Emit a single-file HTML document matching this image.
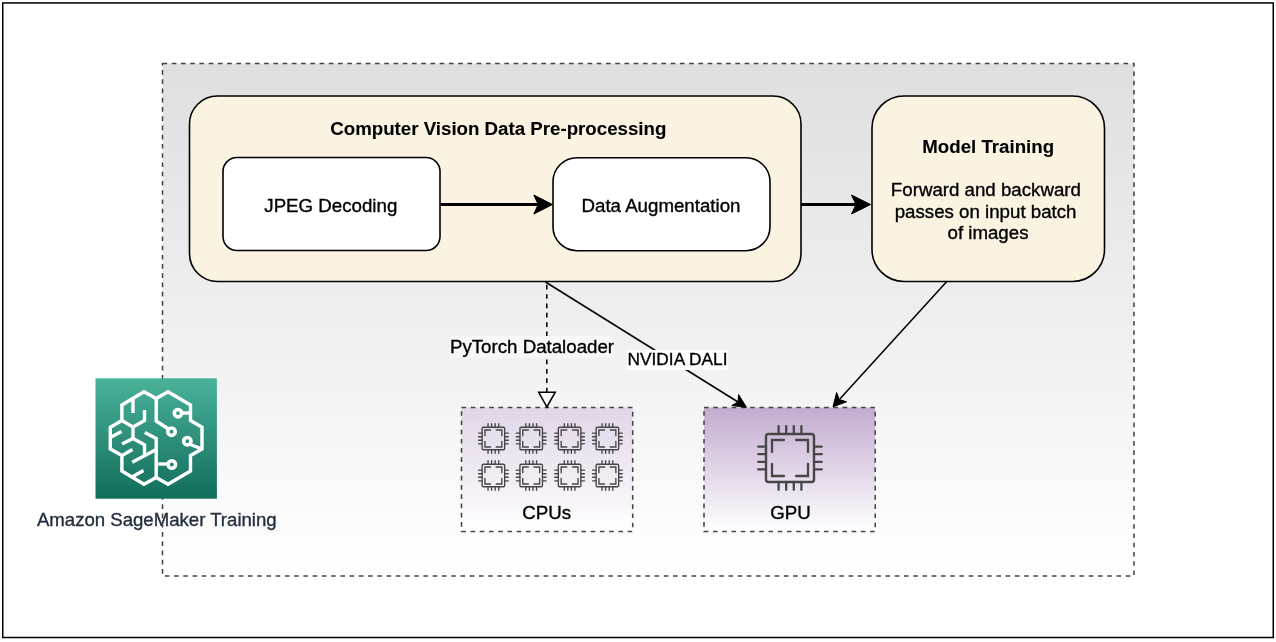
<!DOCTYPE html>
<html><head><meta charset="utf-8">
<style>
html,body{margin:0;padding:0;background:#fff;}
body{width:1276px;height:642px;overflow:hidden;position:relative;}
svg{position:absolute;left:0;top:0;will-change:transform;}
text{font-family:"Liberation Sans",sans-serif;stroke-width:0.35px;}
text[font-weight="bold"]{stroke-width:0.1px;}
</style></head>
<body>
<svg width="1276" height="642" viewBox="0 0 1276 642">
<defs>
<linearGradient id="gCont" x1="0" y1="0" x2="0" y2="1"><stop offset="0" stop-color="#dfdfdf"/><stop offset="1" stop-color="#ffffff"/></linearGradient>
<linearGradient id="gCpu" x1="0" y1="0" x2="0" y2="1"><stop offset="0" stop-color="#e1d5e7"/><stop offset="1" stop-color="#ffffff"/></linearGradient>
<linearGradient id="gGpu" x1="0" y1="0" x2="0" y2="1"><stop offset="0" stop-color="#c3abd0"/><stop offset="1" stop-color="#ffffff"/></linearGradient>
<linearGradient id="gSm" x1="0" y1="0" x2="0" y2="1"><stop offset="0" stop-color="#4ab29a"/><stop offset="1" stop-color="#116d5b"/></linearGradient>
</defs>
<!-- outer border -->
<rect x="2.75" y="2.95" width="1270.5" height="634.55" fill="#fff" stroke="#000" stroke-width="1.5"/>
<!-- container -->
<rect x="162.5" y="63.5" width="971.5" height="512.5" fill="url(#gCont)"/>
<text x="156.8" y="526.4" font-size="18.6" text-anchor="middle" fill="#232f3e" stroke="#232f3e">Amazon SageMaker Training</text>
<rect x="162.5" y="63.5" width="971.5" height="512.5" fill="none" stroke="#444" stroke-width="1.54" stroke-dasharray="4.62 4.62"/>
<!-- big box -->
<rect x="189.5" y="96" width="611.5" height="185.5" rx="28" fill="#faf3e2" stroke="#000" stroke-width="1.6"/>
<text x="498.3" y="134.7" font-size="18.7" font-weight="bold" text-anchor="middle" fill="#000" stroke="#000">Computer Vision Data Pre-processing</text>
<rect x="223" y="157.5" width="217" height="93" rx="14" fill="#fff" stroke="#000" stroke-width="1.6"/>
<text x="330.8" y="212.1" font-size="18.7" text-anchor="middle" fill="#000" stroke="#000">JPEG Decoding</text>
<rect x="553" y="157.7" width="217" height="93" rx="24" fill="#fff" stroke="#000" stroke-width="1.6"/>
<text x="661" y="211.7" font-size="18.7" text-anchor="middle" fill="#000" stroke="#000">Data Augmentation</text>
<!-- model training -->
<rect x="872" y="96" width="232.5" height="185.5" rx="32" fill="#faf3e2" stroke="#000" stroke-width="1.6"/>
<text x="988.2" y="153.4" font-size="18.7" font-weight="bold" text-anchor="middle" fill="#000" stroke="#000">Model Training</text>
<text x="985.9" y="196.2" font-size="18.7" text-anchor="middle" fill="#000" stroke="#000">Forward and backward</text>
<text x="985.6" y="217.8" font-size="18.7" text-anchor="middle" fill="#000" stroke="#000">passes on input batch</text>
<text x="988" y="239.4" font-size="18.7" text-anchor="middle" fill="#000" stroke="#000">of images</text>
<!-- arrows thick -->
<g fill="#000" stroke="#000">
<line x1="440" y1="204.5" x2="540" y2="204.5" stroke-width="3.1"/>
<path d="M552.5 204.5L533.8 195L538.2 204.5L533.8 214Z" stroke-width="1"/>
<line x1="801" y1="204.5" x2="858" y2="204.5" stroke-width="3.1"/>
<path d="M870.5 204.5L851.5 195L856 204.5L851.5 214Z" stroke-width="1"/>
</g>
<!-- CPU / GPU boxes -->
<rect x="461.5" y="407.5" width="171.2" height="124" fill="url(#gCpu)" stroke="#444" stroke-width="1.54" stroke-dasharray="4.62 4.62"/>
<rect x="704" y="407.5" width="171.2" height="124" fill="url(#gGpu)" stroke="#444" stroke-width="1.54" stroke-dasharray="4.62 4.62"/>
<g transform="translate(477.9 423.0) scale(0.46970)"><g fill="none" stroke="#474747" stroke-linecap="round">
<rect x="9" y="9" width="48" height="48" rx="2.5" stroke-width="2.9"/>
<path d="M15 27V15H27M39 15H51V27M15 39V51H27M39 51H51V39" stroke-width="2.9"/>
<path d="M21.6 1.4V9M29.2 1.4V9M36.8 1.4V9M44.4 1.4V9M21.6 57V64.6M29.2 57V64.6M36.8 57V64.6M44.4 57V64.6M1.4 21.6H9M1.4 29.2H9M1.4 36.8H9M1.4 44.4H9M57 21.6H64.6M57 29.2H64.6M57 36.8H64.6M57 44.4H64.6" stroke-width="2.9"/>
</g></g>
<g transform="translate(515.7 423.0) scale(0.46970)"><g fill="none" stroke="#474747" stroke-linecap="round">
<rect x="9" y="9" width="48" height="48" rx="2.5" stroke-width="2.9"/>
<path d="M15 27V15H27M39 15H51V27M15 39V51H27M39 51H51V39" stroke-width="2.9"/>
<path d="M21.6 1.4V9M29.2 1.4V9M36.8 1.4V9M44.4 1.4V9M21.6 57V64.6M29.2 57V64.6M36.8 57V64.6M44.4 57V64.6M1.4 21.6H9M1.4 29.2H9M1.4 36.8H9M1.4 44.4H9M57 21.6H64.6M57 29.2H64.6M57 36.8H64.6M57 44.4H64.6" stroke-width="2.9"/>
</g></g>
<g transform="translate(554.1 423.0) scale(0.46970)"><g fill="none" stroke="#474747" stroke-linecap="round">
<rect x="9" y="9" width="48" height="48" rx="2.5" stroke-width="2.9"/>
<path d="M15 27V15H27M39 15H51V27M15 39V51H27M39 51H51V39" stroke-width="2.9"/>
<path d="M21.6 1.4V9M29.2 1.4V9M36.8 1.4V9M44.4 1.4V9M21.6 57V64.6M29.2 57V64.6M36.8 57V64.6M44.4 57V64.6M1.4 21.6H9M1.4 29.2H9M1.4 36.8H9M1.4 44.4H9M57 21.6H64.6M57 29.2H64.6M57 36.8H64.6M57 44.4H64.6" stroke-width="2.9"/>
</g></g>
<g transform="translate(591.9 423.0) scale(0.46970)"><g fill="none" stroke="#474747" stroke-linecap="round">
<rect x="9" y="9" width="48" height="48" rx="2.5" stroke-width="2.9"/>
<path d="M15 27V15H27M39 15H51V27M15 39V51H27M39 51H51V39" stroke-width="2.9"/>
<path d="M21.6 1.4V9M29.2 1.4V9M36.8 1.4V9M44.4 1.4V9M21.6 57V64.6M29.2 57V64.6M36.8 57V64.6M44.4 57V64.6M1.4 21.6H9M1.4 29.2H9M1.4 36.8H9M1.4 44.4H9M57 21.6H64.6M57 29.2H64.6M57 36.8H64.6M57 44.4H64.6" stroke-width="2.9"/>
</g></g>
<g transform="translate(477.9 460.0) scale(0.46970)"><g fill="none" stroke="#474747" stroke-linecap="round">
<rect x="9" y="9" width="48" height="48" rx="2.5" stroke-width="2.9"/>
<path d="M15 27V15H27M39 15H51V27M15 39V51H27M39 51H51V39" stroke-width="2.9"/>
<path d="M21.6 1.4V9M29.2 1.4V9M36.8 1.4V9M44.4 1.4V9M21.6 57V64.6M29.2 57V64.6M36.8 57V64.6M44.4 57V64.6M1.4 21.6H9M1.4 29.2H9M1.4 36.8H9M1.4 44.4H9M57 21.6H64.6M57 29.2H64.6M57 36.8H64.6M57 44.4H64.6" stroke-width="2.9"/>
</g></g>
<g transform="translate(515.7 460.0) scale(0.46970)"><g fill="none" stroke="#474747" stroke-linecap="round">
<rect x="9" y="9" width="48" height="48" rx="2.5" stroke-width="2.9"/>
<path d="M15 27V15H27M39 15H51V27M15 39V51H27M39 51H51V39" stroke-width="2.9"/>
<path d="M21.6 1.4V9M29.2 1.4V9M36.8 1.4V9M44.4 1.4V9M21.6 57V64.6M29.2 57V64.6M36.8 57V64.6M44.4 57V64.6M1.4 21.6H9M1.4 29.2H9M1.4 36.8H9M1.4 44.4H9M57 21.6H64.6M57 29.2H64.6M57 36.8H64.6M57 44.4H64.6" stroke-width="2.9"/>
</g></g>
<g transform="translate(554.1 460.0) scale(0.46970)"><g fill="none" stroke="#474747" stroke-linecap="round">
<rect x="9" y="9" width="48" height="48" rx="2.5" stroke-width="2.9"/>
<path d="M15 27V15H27M39 15H51V27M15 39V51H27M39 51H51V39" stroke-width="2.9"/>
<path d="M21.6 1.4V9M29.2 1.4V9M36.8 1.4V9M44.4 1.4V9M21.6 57V64.6M29.2 57V64.6M36.8 57V64.6M44.4 57V64.6M1.4 21.6H9M1.4 29.2H9M1.4 36.8H9M1.4 44.4H9M57 21.6H64.6M57 29.2H64.6M57 36.8H64.6M57 44.4H64.6" stroke-width="2.9"/>
</g></g>
<g transform="translate(591.9 460.0) scale(0.46970)"><g fill="none" stroke="#474747" stroke-linecap="round">
<rect x="9" y="9" width="48" height="48" rx="2.5" stroke-width="2.9"/>
<path d="M15 27V15H27M39 15H51V27M15 39V51H27M39 51H51V39" stroke-width="2.9"/>
<path d="M21.6 1.4V9M29.2 1.4V9M36.8 1.4V9M44.4 1.4V9M21.6 57V64.6M29.2 57V64.6M36.8 57V64.6M44.4 57V64.6M1.4 21.6H9M1.4 29.2H9M1.4 36.8H9M1.4 44.4H9M57 21.6H64.6M57 29.2H64.6M57 36.8H64.6M57 44.4H64.6" stroke-width="2.9"/>
</g></g>
<g transform="translate(757.0 425.0) scale(1.00000)"><g fill="none" stroke="#474747" stroke-linecap="round">
<rect x="9" y="9" width="48" height="48" rx="2.5" stroke-width="2.4"/>
<path d="M15 27V15H27M39 15H51V27M15 39V51H27M39 51H51V39" stroke-width="2.3"/>
<path d="M21.6 1.2V9M29.2 1.2V9M36.8 1.2V9M44.4 1.2V9M21.6 57V64.8M29.2 57V64.8M36.8 57V64.8M44.4 57V64.8M1.2 21.6H9M1.2 29.2H9M1.2 36.8H9M1.2 44.4H9M57 21.6H64.8M57 29.2H64.8M57 36.8H64.8M57 44.4H64.8" stroke-width="2.3"/>
</g></g>
<text x="546.7" y="518.7" font-size="18.7" text-anchor="middle" fill="#000" stroke="#000">CPUs</text>
<text x="790.4" y="518.7" font-size="18.7" text-anchor="middle" fill="#000" stroke="#000">GPU</text>
<!-- dashed arrow -->
<line x1="546.8" y1="282.5" x2="546.8" y2="392" stroke="#000" stroke-width="1.54" stroke-dasharray="4.675 4.675" stroke-dashoffset="7.05"/>
<path d="M538.7 392.2H555.2L546.9 407Z" fill="#fff" stroke="#000" stroke-width="1.54"/>
<rect x="450.6" y="336" width="162.9" height="21.7" fill="#f6f7f9"/>
<text x="532" y="352.5" font-size="18.7" text-anchor="middle" fill="#000" stroke="#000">PyTorch Dataloader</text>
<!-- DALI arrow -->
<line x1="545.5" y1="282" x2="738" y2="402" stroke="#000" stroke-width="1.54"/>
<path d="M746.4 407.3L738.6 394.6L738 402L731.8 405.5Z" fill="#000" stroke="#000" stroke-width="1"/>
<rect x="627" y="349.9" width="100.7" height="20" fill="#fff"/>
<text x="677.5" y="365.2" font-size="17.3" text-anchor="middle" fill="#000" stroke="#000">NVIDIA DALI</text>
<!-- model -> gpu arrow -->
<line x1="946.8" y1="281.5" x2="839.8" y2="399" stroke="#000" stroke-width="1.54"/>
<path d="M833 406.8L836.6 392.6L839.3 399.5L846.6 401.8Z" fill="#000" stroke="#000" stroke-width="1"/>
<!-- sagemaker icon -->
<rect x="95.5" y="378.3" width="121.4" height="120.4" fill="url(#gSm)"/>
<g fill="none" stroke="#fff" stroke-width="3.4" stroke-linejoin="miter">
<path d="M144 391.7L121.9 405V420.5L110.3 427.2V449L121.9 455.6V471L144 484.2L156.2 477.5L168 484.2L190.5 471V455.6L202 449V427.2L190.5 420.5V405L168 391.7L156.2 398.5Z"/>
<path d="M133 398V413"/>
<path d="M144.5 410V420.5L133 427"/>
<path d="M121.9 420.5L133 427V438.4"/>
<path d="M110.3 437.5L121.5 431.5"/>
<path d="M122 444L133 438.4L144.5 444.8V455.8"/>
<path d="M121.9 455.6L132.5 449.5"/>
<path d="M132.2 462.3L156.2 449.6"/>
<path d="M132 477L143.5 470.5"/>
<path d="M144.8 432.6L156.2 438.5V477.5"/>
<path d="M156.2 398.5V421L168.5 429"/>
<path d="M156.2 464H168"/>
<path d="M181.5 413H190.5"/>
<path d="M190.4 444.5L202 449"/>
</g>
<g fill="none" stroke="#fff" stroke-width="3.6">
<circle cx="171.5" cy="431.7" r="3.7"/>
<circle cx="178" cy="413.2" r="3.7"/>
<circle cx="187.3" cy="441.2" r="3.7"/>
<circle cx="171.8" cy="464.5" r="3.7"/>
</g>
</svg>
</body></html>
